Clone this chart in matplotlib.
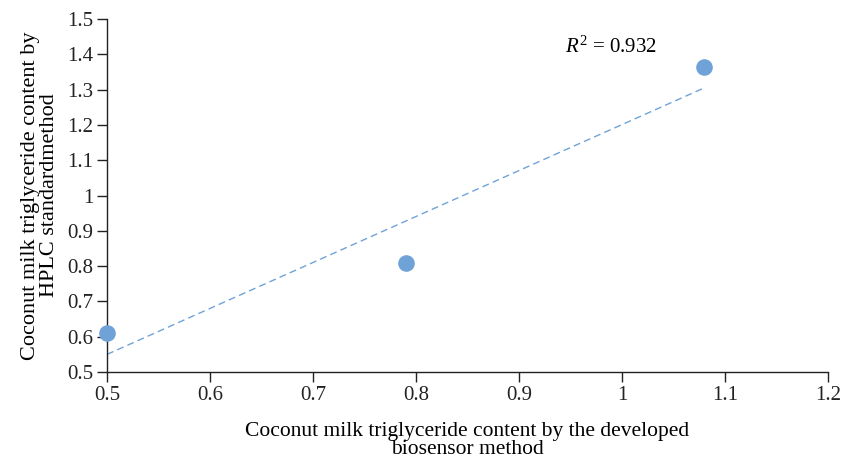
import numpy as np
import matplotlib
matplotlib.use("Agg")
import matplotlib.pyplot as plt

plt.rcParams['font.family'] = 'Liberation Serif'
plt.rcParams['mathtext.fontset'] = 'custom'
plt.rcParams['mathtext.rm'] = 'Liberation Serif'
plt.rcParams['mathtext.it'] = 'Liberation Serif:italic'

# Données
biosensor = [0.5, 0.79, 1.08]
hplc = [0.61, 0.81, 1.365]
trend_x = [0.5, 1.08]
trend_y = [0.55, 1.305]
r2 = 0.932

xticks = [0.5, 0.6, 0.7, 0.8, 0.9, 1.0, 1.1, 1.2]
yticks = [0.5, 0.6, 0.7, 0.8, 0.9, 1.0, 1.1, 1.2, 1.3, 1.4, 1.5]

color = '#6fa3d8'

fig = plt.figure(figsize=(8.43, 4.59), dpi=100)
ax = fig.add_axes([0.127, 0.1895, 0.855, 0.769])

ax.plot(trend_x, trend_y, linestyle=(0, (5, 3)), color=color, linewidth=1.0)
ax.scatter(biosensor, hplc, s=120, color=color, zorder=3, clip_on=False)

ax.set_xlim(0.5, 1.2)
ax.set_ylim(0.5, 1.5)
ax.set_xticks(xticks)
ax.set_yticks(yticks)
ax.set_xticklabels([f"{v:g}" for v in xticks])
ax.set_yticklabels([f"{v:g}" for v in yticks])
ax.tick_params(direction='out', length=7, width=1, labelsize=15, colors='#222222', pad=3)

for s in ['top', 'right']:
    ax.spines[s].set_visible(False)
for s in ['left', 'bottom']:
    ax.spines[s].set_linewidth(1.0)
    ax.spines[s].set_color('#222222')

ax.set_xlabel("Coconut milk triglyceride content by the developed\nbiosensor method",
              fontsize=15.5, labelpad=12, linespacing=0.95)
ax.set_ylabel("Coconut milk triglyceride content by\nHPLC standardmethod",
              fontsize=16, labelpad=6, linespacing=1.0)

ax.text(0.945, 1.42, f"$R^2$ = {r2}", fontsize=15, va='center', ha='left')

fig.savefig("out.png", dpi=100)
